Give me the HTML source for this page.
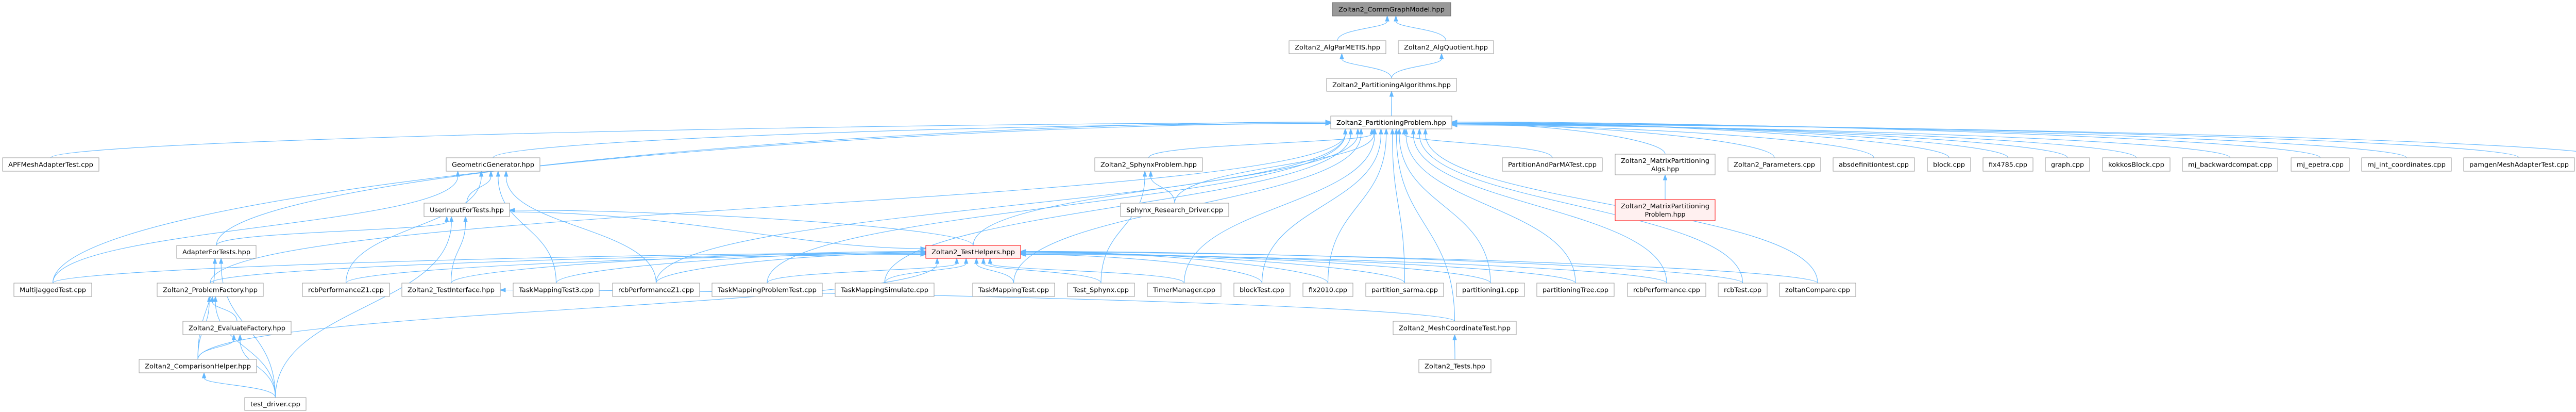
<!DOCTYPE html>
<html><head><meta charset="utf-8"><style>
html,body{margin:0;padding:0;background:#fff;}
svg{display:block;}
text{font-family:"DejaVu Sans","Liberation Sans",sans-serif;font-size:12.5px;fill:#000;}
</style></head><body>
<svg id="g" width="5113" height="799" viewBox="0 0 5113 799" xmlns="http://www.w3.org/2000/svg">
<g id="edges" fill="none" stroke="#63b8ff" stroke-width="1.1"></g>
<g id="arrows" fill="#63b8ff" stroke="#63b8ff"></g>
<g id="nodes">
<rect x="2586" y="5" width="230" height="26" fill="#999" stroke="#666"/><text x="2701" y="22.5" text-anchor="middle" textLength="206" lengthAdjust="spacingAndGlyphs">Zoltan2_CommGraphModel.hpp</text>
<rect x="2502" y="79" width="188" height="25" fill="#fff" stroke="#999"/><text x="2596" y="96" text-anchor="middle" textLength="166" lengthAdjust="spacingAndGlyphs">Zoltan2_AlgParMETIS.hpp</text>
<rect x="2714" y="79" width="185" height="25" fill="#fff" stroke="#999"/><text x="2806.5" y="96" text-anchor="middle" textLength="163" lengthAdjust="spacingAndGlyphs">Zoltan2_AlgQuotient.hpp</text>
<rect x="2575" y="152" width="252" height="25" fill="#fff" stroke="#999"/><text x="2701" y="169" text-anchor="middle" textLength="230" lengthAdjust="spacingAndGlyphs">Zoltan2_PartitioningAlgorithms.hpp</text>
<rect x="2583" y="225" width="235" height="25" fill="#fff" stroke="#999"/><text x="2700.5" y="242" text-anchor="middle" textLength="213" lengthAdjust="spacingAndGlyphs">Zoltan2_PartitioningProblem.hpp</text>
<rect x="3135" y="299" width="194" height="40" fill="#fff" stroke="#999"/><text x="3232" y="316" text-anchor="middle" textLength="172" lengthAdjust="spacingAndGlyphs">Zoltan2_MatrixPartitioning</text><text x="3232" y="332" text-anchor="middle">Algs.hpp</text>
<rect x="3135" y="387" width="194" height="41" fill="#fff0f0" stroke="#f00"/><text x="3232" y="404" text-anchor="middle" textLength="172" lengthAdjust="spacingAndGlyphs">Zoltan2_MatrixPartitioning</text><text x="3232" y="420" text-anchor="middle">Problem.hpp</text>
</g>
</svg>
<script>
var N={
cg:[2586,5,2816,31],apm:[2502,79,2690,104],aq:[2714,79,2899,104],pa:[2575,152,2827,177],pp:[2583,225,2818,250],
apf:[5,306,192,332,"APFMeshAdapterTest.cpp"],geo:[866,306,1048,332,"GeometricGenerator.hpp"],sph:[2125,306,2334,332,"Zoltan2_SphynxProblem.hpp"],
pam:[2916,306,3110,332,"PartitionAndParMATest.cpp"],mal:[3135,299,3329,339],par:[3354,306,3534,332,"Zoltan2_Parameters.cpp"],
abs:[3558,306,3716,332,"absdefinitiontest.cpp"],blk:[3741,306,3825,332,"block.cpp"],f4785:[3849,306,3946,332,"fix4785.cpp"],
gra:[3970,306,4056,332,"graph.cpp"],kok:[4081,306,4212,332,"kokkosBlock.cpp"],mjb:[4236,306,4421,332,"mj_backwardcompat.cpp"],
mje:[4447,306,4560,332,"mj_epetra.cpp"],mji:[4584,306,4758,332,"mj_int_coordinates.cpp"],pmg:[4782,306,4997,332,"pamgenMeshAdapterTest.cpp"],
rcbc:[5022,306,5107,332,"rcb_C.cpp"],
uin:[823,394,989,420,"UserInputForTests.hpp"],srd:[2175,394,2385,420,"Sphynx_Research_Driver.cpp"],mpp:[3135,387,3329,428],
adp:[343,476,497,501,"AdapterForTests.hpp"],th:[1797,476,1981,501,"Zoltan2_TestHelpers.hpp","r"],
mjt:[27,549,178,575,"MultiJaggedTest.cpp"],pf:[305,549,511,575,"Zoltan2_ProblemFactory.hpp"],rz1a:[587,549,756,575,"rcbPerformanceZ1.cpp"],
ti:[780,549,971,575,"Zoltan2_TestInterface.hpp"],tm3:[996,549,1163,575,"TaskMappingTest3.cpp"],rz1b:[1189,549,1358,575,"rcbPerformanceZ1.cpp"],
tmpt:[1382,549,1596,575,"TaskMappingProblemTest.cpp"],tms:[1621,549,1813,575,"TaskMappingSimulate.cpp"],tmt:[1888,549,2047,575,"TaskMappingTest.cpp"],
tsp:[2072,549,2202,575,"Test_Sphynx.cpp"],tim:[2227,549,2370,575,"TimerManager.cpp"],bt:[2395,549,2504,575,"blockTest.cpp"],
f2010:[2529,549,2626,575,"fix2010.cpp"],ps:[2651,549,2802,575,"partition_sarma.cpp"],p1:[2827,549,2959,575,"partitioning1.cpp"],
ptree:[2983,549,3133,575,"partitioningTree.cpp"],rp:[3159,549,3311,575,"rcbPerformance.cpp"],rt:[3335,549,3430,575,"rcbTest.cpp"],
zc:[3454,549,3602,575,"zoltanCompare.cpp"],
ef:[355,623,565,649,"Zoltan2_EvaluateFactory.hpp"],mct:[2704,623,2943,649,"Zoltan2_MeshCoordinateTest.hpp"],
ch:[270,697,498,723,"Zoltan2_ComparisonHelper.hpp"],z2t:[2754,697,2894,723,"Zoltan2_Tests.hpp"],
td:[475,771,594,796,"test_driver.cpp"]};
var E=[["apm","cg"],["aq","cg"],["pa","apm"],["pa","aq"],["pp","pa"],["mpp","mal"],
["tsp","sph"],["srd","sph"],["z2t","mct"],["mct","ti"],
["uin","geo"],["mjt","geo"],["rz1a","geo"],["tm3","geo"],["rz1b","geo"],
["adp","uin"],["td","uin"],["ti","uin"],["th","uin"],["uin","th"],
["ch","adp"],["td","adp"],["ef","pf"],["ch","pf"],["td","pf"],["ch","ef"],["td","ef"],["td","ch"]];
"apf geo sph pam mal par abs blk f4785 gra kok mjb mje mji pmg rcbc srd adp th mjt pf rz1b tmpt tms tmt tim bt f2010 ps p1 ptree rp rt zc mct".split(" ").forEach(function(c){E.push([c,"pp"]);});
"mjt pf rz1a ti tm3 rz1b tmpt tms tmt tsp tim bt f2010 ps p1 ptree rp rt zc ch".split(" ").forEach(function(c){E.push([c,"th"]);});
var NS="http://www.w3.org/2000/svg",eg=document.getElementById("edges"),ag=document.getElementById("arrows"),ng=document.getElementById("nodes");
function el(t,a,p){var e=document.createElementNS(NS,t);for(var k in a)e.setAttribute(k,a[k]);p.appendChild(e);return e;}
function cl(v,a){return Math.max(-a,Math.min(a,v));}
var cnt={};
E.forEach(function(ed){
 var C=N[ed[0]],P=N[ed[1]];
 var pcx=(P[0]+P[2])/2,pcy=(P[1]+P[3])/2,pw=P[2]-P[0],ccx=(C[0]+C[2])/2,ccy=(C[1]+C[3])/2;
 var dy=C[1]-P[3],dx=ccx-pcx,sx,sy,ex,ey,c1x,c1y,c2x,c2y;
 var k=ed[1]+(dx<0?"L":"R");cnt[k]=(cnt[k]||0)+1;var j=(cnt[k]%5)-2;
 if(dy>0&&Math.abs(dx)<8*dy+pw/2){
  sx=ccx;sy=C[1];ex=pcx+cl(dx*0.08,pw*0.38);ey=P[3];
  c1x=sx;c1y=sy-dy*0.5;c2x=ex;c2y=ey+dy*0.5;
 }else if(dy>0){
  ex=dx<0?P[0]:P[2];ey=pcy+2+j*1.5;
  if(dy>40){sx=ccx;sy=C[1];c1x=sx;c1y=sy-dy*0.6;}
  else{sx=dx<0?C[2]:C[0];sy=ccy;c1x=sx-(dx<0?-60:60);c1y=sy;sx=dx<0?C[2]:C[0];sy=C[1]+6;}
  c2x=ex+(dx<0?-Math.abs(dx)*0.35:Math.abs(dx)*0.35);c2y=ey;
 }else{
  ex=dx<0?P[0]:P[2];ey=P[1]+6;sx=dx<0?C[2]:C[0];sy=ccy+4;
  c1x=sx+(ex-sx)*0.4;c1y=sy;c2x=ex-(ex-sx)*0.3;c2y=ey;
 }
 var tx=ex-c2x,ty=ey-c2y,L=Math.hypot(tx,ty)||1;tx/=L;ty/=L;
 var bx=ex-tx*10,by=ey-ty*10;
 el("path",{d:"M"+sx+","+sy+" C"+c1x+","+c1y+" "+c2x+","+c2y+" "+bx+","+by},eg);
 var nx=-ty,ny=tx;
 el("polygon",{points:ex+","+ey+" "+(bx+nx*3.5)+","+(by+ny*3.5)+" "+(bx-nx*3.5)+","+(by-ny*3.5)},ag);
});
for(var id in N){var n=N[id];if(!n[4])continue;
 var red=n[5]=="r";
 el("rect",{x:n[0],y:n[1],width:n[2]-n[0],height:n[3]-n[1],fill:red?"#fff0f0":"#fff",stroke:red?"#f00":"#999"},ng);
 var t=el("text",{x:(n[0]+n[2])/2,y:(n[1]+n[3])/2+4.5,"text-anchor":"middle",textLength:(n[2]-n[0]-22),lengthAdjust:"spacingAndGlyphs"},ng);
 t.textContent=n[4];}
</script>
</body></html>
